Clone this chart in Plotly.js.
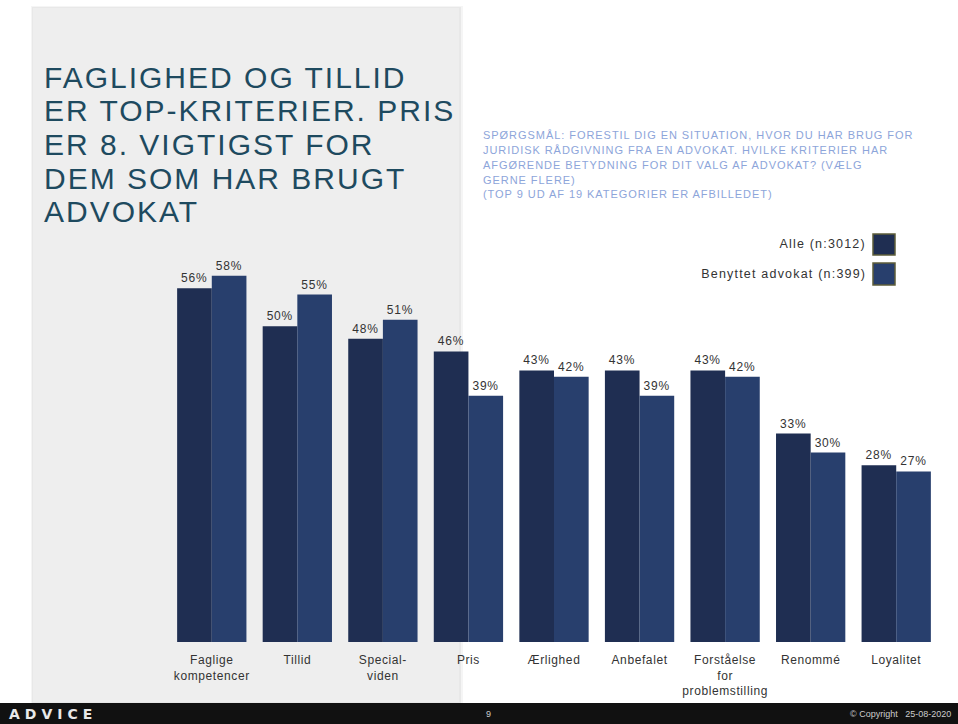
<!DOCTYPE html>
<html>
<head>
<meta charset="utf-8">
<script src="https://cdn.plot.ly/plotly-3.0.1.min.js"></script>
<style>
html,body{margin:0;padding:0;background:#fff;}
#chart{width:958px;height:724px;}
</style>
</head>
<body>
<div id="chart"></div>
<script>
const categories = ["Faglige<br>kompetencer","Tillid","Special-<br>viden","Pris","Ærlighed","Anbefalet","Forståelse<br>for<br>problemstilling","Renommé","Loyalitet"];
const seriesNames = ["Alle (n:3012)","Benyttet advokat (n:399)"];
const alle = [56,50,48,46,43,43,43,33,28];
const benyttet = [58,55,51,39,42,39,42,30,27];
const titleLines = ["FAGLIGHED OG TILLID","ER TOP-KRITERIER. PRIS","ER 8. VIGTIGST FOR","DEM SOM HAR BRUGT","ADVOKAT"];
const questionLines = ["SPØRGSMÅL: FORESTIL DIG EN SITUATION, HVOR DU HAR BRUG FOR","JURIDISK RÅDGIVNING FRA EN ADVOKAT. HVILKE KRITERIER HAR","AFGØRENDE BETYDNING FOR DIT VALG AF ADVOKAT? (VÆLG","GERNE FLERE)","(TOP 9 UD AF 19 KATEGORIER ER AFBILLEDET)"];
const footerLeft = "ADVICE";
const footerPage = "9";
const footerRight = "© Copyright   25-08-2020";

const colAlle = "#1F2E52";
const colBen = "#283F6D";

// pixel -> paper helpers (plot area: x 169..939, y 263..642)
const L = 169, W = 770, B = 642, H = 379;
const px = v => (v - L) / W;
const py = v => (B - v) / H;

const font = "Liberation Sans, Arial, sans-serif";

const traces = [
  {type:"bar", name:seriesNames[0], x:categories, y:alle, marker:{color:colAlle, line:{width:0}},
   text:alle.map(v=>v+"%"), textposition:"outside", textfont:{family:font,size:12,color:"#333"}, cliponaxis:false, hoverinfo:"skip"},
  {type:"bar", name:seriesNames[1], x:categories, y:benyttet, marker:{color:colBen, line:{width:0}},
   text:benyttet.map(v=>v+"%"), textposition:"outside", textfont:{family:font,size:12,color:"#333"}, cliponaxis:false, hoverinfo:"skip"}
];

const annotations = [];
const spacing = [];
const titleY = [77,111,144.5,178,211];
titleLines.forEach((t,i)=>{
  annotations.push({xref:"paper",yref:"paper",x:px(42),y:py(titleY[i]),xanchor:"left",yanchor:"middle",align:"left",showarrow:false,
    text:t,font:{family:font,size:30,color:"#1E4A5F"}});
  spacing.push(2.0);
});
const qY = [135,150,165,180,194];
questionLines.forEach((t,i)=>{
  annotations.push({xref:"paper",yref:"paper",x:px(481),y:py(qY[i]),xanchor:"left",yanchor:"middle",align:"left",showarrow:false,
    text:t,font:{family:font,size:11,color:"#8DA5DA"}});
  spacing.push(0.95);
});
// legend
const legY = [244,274];
seriesNames.forEach((t,i)=>{
  annotations.push({xref:"paper",yref:"paper",x:px(868),y:py(legY[i]),xanchor:"right",yanchor:"middle",align:"right",showarrow:false,
    text:t,font:{family:font,size:12.5,color:"#333"}});
  spacing.push(1.2);
});
// footer
annotations.push({xref:"paper",yref:"paper",x:px(7),y:py(714),xanchor:"left",yanchor:"middle",align:"left",showarrow:false,
  text:"<b>"+footerLeft+"</b>",font:{family:"DejaVu Sans, sans-serif",size:14,color:"#e8e8e8"}});
spacing.push(5);
annotations.push({xref:"paper",yref:"paper",x:px(488),y:py(714),xanchor:"center",yanchor:"middle",showarrow:false,
  text:footerPage,font:{family:font,size:9,color:"#cccccc"}});
spacing.push(0);
annotations.push({xref:"paper",yref:"paper",x:px(953),y:py(714),xanchor:"right",yanchor:"middle",align:"right",showarrow:false,
  text:footerRight,font:{family:font,size:9,color:"#cccccc"}});
spacing.push(0);

const shapes = [
  // grey panel with soft shadow
  {type:"rect",xref:"paper",yref:"paper",x0:px(31),x1:px(463),y0:py(6),y1:py(704),fillcolor:"rgba(0,0,0,0.04)",line:{width:0},layer:"below"},
  {type:"rect",xref:"paper",yref:"paper",x0:px(32),x1:px(461),y0:py(7),y1:py(703),fillcolor:"rgba(0,0,0,0.05)",line:{width:0},layer:"below"},
  {type:"rect",xref:"paper",yref:"paper",x0:px(33),x1:px(459),y0:py(8),y1:py(702),fillcolor:"#EEEEEE",line:{width:0},layer:"below"},
  // footer bar
  {type:"rect",xref:"paper",yref:"paper",x0:px(0),x1:px(958),y0:py(703),y1:py(724),fillcolor:"#111111",line:{width:0},layer:"above"},
  // legend boxes
  {type:"rect",xref:"paper",yref:"paper",x0:px(873),x1:px(895),y0:py(234),y1:py(255),fillcolor:colAlle,line:{width:1.5,color:"#5E5D3A"},layer:"above"},
  {type:"rect",xref:"paper",yref:"paper",x0:px(873),x1:px(895),y0:py(263),y1:py(285),fillcolor:colBen,line:{width:1.5,color:"#5E5D3A"},layer:"above"}
];

const layout = {
  width:958, height:724,
  margin:{l:L, r:958-L-W, t:263, b:724-B, pad:0},
  paper_bgcolor:"#ffffff", plot_bgcolor:"rgba(0,0,0,0)",
  barmode:"group", bargap:0.19, bargroupgap:0,
  showlegend:false,
  font:{family:font,size:12,color:"#333"},
  xaxis:{type:"category", showgrid:false, zeroline:false, showline:false, ticks:"", ticklen:0, ticklabelstandoff:9,
    tickfont:{family:font,size:12,color:"#333"}, fixedrange:true, automargin:false},
  yaxis:{range:[0,60], visible:false, showgrid:false, zeroline:false, fixedrange:true},
  annotations:annotations,
  shapes:shapes
};

Plotly.newPlot("chart", traces, layout, {displayModeBar:false, staticPlot:true}).then(()=>{
  document.querySelectorAll("g.annotation").forEach(g=>{
    const i = +g.getAttribute("data-index");
    const s = spacing[i];
    if(s){ g.querySelectorAll("text").forEach(t=>t.style.letterSpacing = s+"px"); }
  });
  document.querySelectorAll("text.bartext").forEach(t=>t.style.letterSpacing="0.8px");
  document.querySelectorAll("g.xtick text").forEach(t=>t.style.letterSpacing="0.6px");
});
</script>
</body>
</html>
